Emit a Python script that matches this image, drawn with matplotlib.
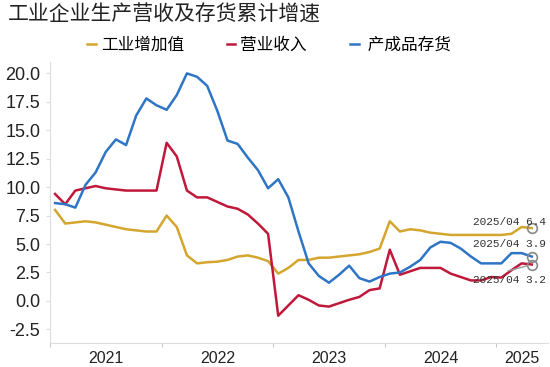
import numpy as np
import matplotlib
matplotlib.use("Agg")
from matplotlib import pyplot as plt

plt.rcParams['font.family'] = ['Noto Sans CJK SC', 'DejaVu Sans']

# Monthly cumulative growth (%), Jan-Feb combined; 2025 has four points
years = ["2021", "2022", "2023", "2024", "2025"]
year_len = [11, 11, 11, 11, 4]

value_added = [8.0, 6.8, 6.9, 7.0, 6.9, 6.7, 6.5, 6.3, 6.2, 6.1, 6.1,
               7.5, 6.5, 4.0, 3.3, 3.4, 3.45, 3.6, 3.9, 4.0, 3.8, 3.5,
               2.4, 2.9, 3.6, 3.6, 3.8, 3.8, 3.9, 4.0, 4.1, 4.3, 4.6,
               7.0, 6.1, 6.3, 6.2, 6.0, 5.9, 5.8, 5.8, 5.8, 5.8, 5.8,
               5.8, 5.9, 6.5, 6.4]
revenue = [9.4, 8.5, 9.7, 9.9, 10.1, 9.9, 9.8, 9.7, 9.7, 9.7, 9.7,
           13.9, 12.7, 9.7, 9.1, 9.1, 8.7, 8.3, 8.1, 7.6, 6.8, 5.9,
           -1.3, -0.4, 0.5, 0.1, -0.4, -0.5, -0.2, 0.1, 0.35, 0.95, 1.1,
           4.5, 2.3, 2.6, 2.9, 2.9, 2.9, 2.4, 2.1, 1.8, 1.8, 2.1,
           2.05, 2.7, 3.3, 3.2]
inventory = [8.6, 8.5, 8.2, 10.2, 11.3, 13.1, 14.2, 13.7, 16.3, 17.8, 17.2,
             16.8, 18.1, 20.0, 19.7, 18.9, 16.7, 14.1, 13.8, 12.6, 11.5, 9.9,
             10.7, 9.1, 6.1, 3.3, 2.2, 1.6, 2.3, 3.1, 2.0, 1.7, 2.1,
             2.4, 2.5, 3.0, 3.6, 4.7, 5.2, 5.1, 4.6, 3.9, 3.3, 3.3,
             3.3, 4.2, 4.2, 3.9]

labels = ["2025/04 6.4", "2025/04 3.9", "2025/04 3.2"]

c_yellow = "#D4A62E"
c_red = "#C0183A"
c_blue = "#2E75C6"

x = np.arange(len(revenue))

fig = plt.figure(figsize=(5.5, 3.67), dpi=100)
ax = fig.add_axes([0.0909, 0.0654, 0.9055, 0.7656])

ax.plot(x, value_added, color=c_yellow, lw=1.8, label="工业增加值")
ax.plot(x, revenue, color=c_red, lw=1.8, label="营业收入")
ax.plot(x, inventory, color=c_blue, lw=1.8, label=" 产成品存货")

# end markers and labels
last = len(x) - 1
for s in [value_added, inventory, revenue]:
    ax.plot(x[last], s[-1], 'o', ms=7, mfc='none', mec='#888888', mew=1.2)
ax.text(41.2, 6.9, labels[0], fontsize=8, family='Liberation Mono', va='center', color='#333333')
ax.text(41.2, 4.97, labels[1], fontsize=8, family='Liberation Mono', va='center', color='#333333')
ax.text(41.2, 1.81, labels[2], fontsize=8, family='Liberation Mono', va='center', color='#333333')
ax.plot([46.6, 44.7], [3.1, 2.65], color='#999999', lw=1)

ax.set_xlim(-0.5, 48.6)
ax.set_ylim(-3.7, 21)
ax.set_yticks(np.arange(-2.5, 20.1, 2.5))
ax.set_yticklabels(["%.1f" % v for v in np.arange(-2.5, 20.1, 2.5)],
                   family='Liberation Sans', fontsize=13, color='#222222')

# year boundaries as minor ticks, labels centred in each year
bounds = np.cumsum([0] + year_len) - 0.5
centers = [(bounds[i] + bounds[i + 1]) / 2 for i in range(4)] + [(bounds[4] + 48.6) / 2]
ax.set_xticks(bounds[:-1], minor=True)
ax.set_xticks(centers)
ax.set_xticklabels(years, family='Liberation Sans', fontsize=11.5, color='#222222')
ax.tick_params(axis='x', which='major', length=0, pad=6)
ax.tick_params(axis='x', which='minor', length=3, color='#BBBBBB')
ax.tick_params(axis='y', length=3, color='#DDDDDD', pad=4)

for sp in ['top', 'right']:
    ax.spines[sp].set_visible(False)
for sp in ['left', 'bottom']:
    ax.spines[sp].set_color('#DDDDDD')

fig.text(0.0145, 0.959, "工业企业生产营收及存货累计增速", fontsize=15, va='center', color='#222222')
fig.legend(loc='center', bbox_to_anchor=(0.489, 0.877), ncol=3, frameon=False,
           fontsize=12, handlelength=0.5, handletextpad=0.3, columnspacing=2.6)

fig.savefig("out.png", dpi=100)
